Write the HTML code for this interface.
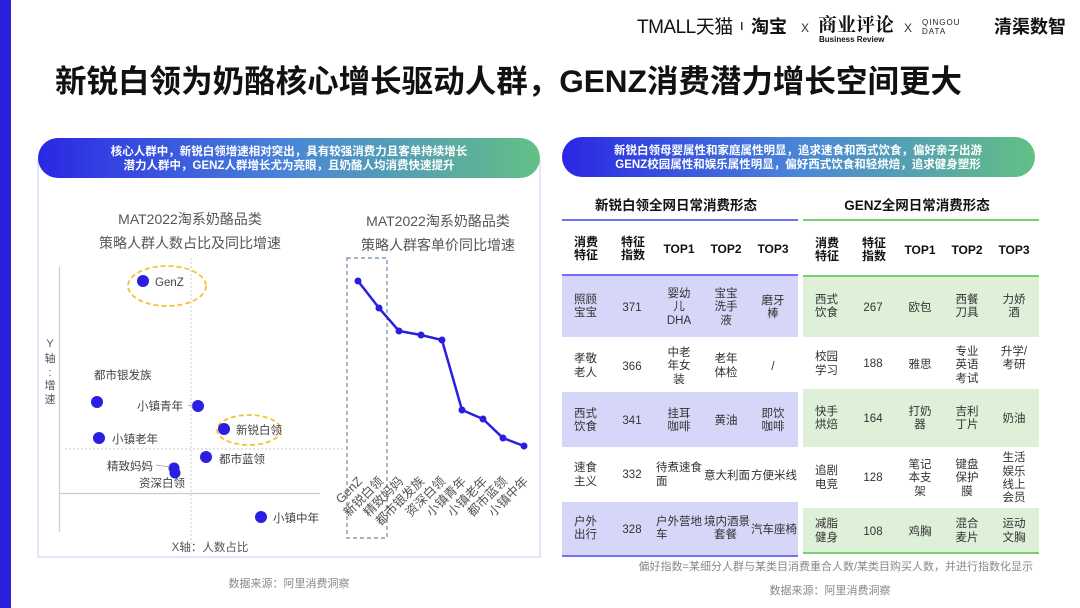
<!DOCTYPE html>
<html><head><meta charset="utf-8"><style>
html,body{margin:0;padding:0;background:#fff;}
svg{display:block;font-family:"Liberation Sans","Noto Sans CJK SC",sans-serif;}
</style></head><body>
<svg width="1080" height="608" viewBox="0 0 1080 608" xmlns="http://www.w3.org/2000/svg">
<defs>
<linearGradient id="g" x1="0" x2="1" y1="0" y2="0"><stop offset="0" stop-color="#2a27e4"/><stop offset="0.5" stop-color="#4a86d8"/><stop offset="1" stop-color="#62c084"/></linearGradient>
</defs>
<rect x="0" y="0" width="11" height="608" fill="#2b1fe0"/>
<!-- header logos -->
<text x="637" y="33" font-size="19" fill="#111" letter-spacing="-0.5">TMALL天猫</text>
<rect x="741" y="22" width="1.5" height="8" fill="#333"/>
<text x="751" y="33" font-size="18" font-weight="bold" fill="#111">淘宝</text>
<text x="801" y="32" font-size="12" fill="#333">X</text>
<text x="818" y="31" font-size="19" font-weight="bold" fill="#111" font-family="Noto Serif CJK SC,serif">商业评论</text>
<text x="819" y="42" font-size="8" font-weight="bold" fill="#111">Business Review</text>
<text x="904" y="32" font-size="12" fill="#333">X</text>
<text x="922" y="25" font-size="8" fill="#222" letter-spacing="1">QINGOU</text>
<text x="922" y="34" font-size="8" fill="#222" letter-spacing="1">DATA</text>
<text x="994" y="33" font-size="18" font-weight="bold" fill="#111">清渠数智</text>
<!-- title -->
<text x="55" y="92" font-size="31.5" font-weight="bold" fill="#111" textLength="907" lengthAdjust="spacingAndGlyphs">新锐白领为奶酪核心增长驱动人群，GENZ消费潜力增长空间更大</text>

<!-- left panel -->
<rect x="38" y="160" width="502" height="397" fill="none" stroke="#c9c9f5" stroke-width="1"/>
<rect x="38" y="138" width="502" height="40" rx="20" fill="url(#g)"/>
<text x="289" y="155" font-size="11.5" font-weight="bold" fill="#fff" text-anchor="middle">核心人群中，新锐白领增速相对突出，具有较强消费力且客单持续增长</text>
<text x="289" y="169" font-size="11.5" font-weight="bold" fill="#fff" text-anchor="middle">潜力人群中，GENZ人群增长尤为亮眼，且奶酪人均消费快速提升</text>

<text x="190" y="224" font-size="14" fill="#555" text-anchor="middle">MAT2022淘系奶酪品类</text>
<text x="190" y="248" font-size="14" fill="#555" text-anchor="middle">策略人群人数占比及同比增速</text>
<text x="438" y="226" font-size="14" fill="#555" text-anchor="middle">MAT2022淘系奶酪品类</text>
<text x="438" y="250" font-size="14" fill="#555" text-anchor="middle">策略人群客单价同比增速</text>

<!-- scatter axes -->
<line x1="59.5" y1="267" x2="59.5" y2="532" stroke="#ccc" stroke-width="1.2"/>
<line x1="59" y1="493.5" x2="320" y2="493.5" stroke="#ccc" stroke-width="1.2"/>
<line x1="191" y1="258" x2="191" y2="545" stroke="#ccc" stroke-dasharray="2,2"/>
<line x1="65" y1="449" x2="345" y2="449" stroke="#ccc" stroke-dasharray="2,2"/>
<text x="50" y="347" font-size="11" fill="#555" text-anchor="middle">Y</text>
<text x="50" y="362" font-size="11" fill="#555" text-anchor="middle">轴</text>
<text x="50" y="376" font-size="11" fill="#555" text-anchor="middle">:</text>
<text x="50" y="389" font-size="11" fill="#555" text-anchor="middle">增</text>
<text x="50" y="403" font-size="11" fill="#555" text-anchor="middle">速</text>
<text x="210" y="551" font-size="11.5" fill="#555" text-anchor="middle">X轴：人数占比</text>

<ellipse cx="167" cy="286" rx="39" ry="20" fill="none" stroke="#f4c330" stroke-width="1.8" stroke-dasharray="5,3"/>
<ellipse cx="249" cy="430" rx="32" ry="15" fill="none" stroke="#f4c330" stroke-width="1.8" stroke-dasharray="5,3"/>
<g fill="#2a1fe0">
<circle cx="143" cy="281" r="6"/><circle cx="97" cy="402" r="6"/><circle cx="198" cy="406" r="6"/>
<circle cx="224" cy="429" r="6"/><circle cx="99" cy="438" r="6"/><circle cx="206" cy="457" r="6"/>
<circle cx="174" cy="468" r="5.5"/><circle cx="175" cy="473" r="5.5"/><circle cx="261" cy="517" r="6"/>
</g>
<g font-size="11.5" fill="#444">
<text x="155" y="286">GenZ</text>
<text x="94" y="379">都市银发族</text>
<text x="137" y="410">小镇青年</text>
<text x="236" y="434">新锐白领</text>
<text x="112" y="443">小镇老年</text>
<text x="219" y="463">都市蓝领</text>
<text x="107" y="470">精致妈妈</text>
<text x="139" y="487">资深白领</text>
<text x="273" y="522">小镇中年</text>
</g>
<line x1="156" y1="465" x2="170" y2="467" stroke="#999" stroke-width="0.8"/>
<line x1="188" y1="405" x2="193" y2="406" stroke="#999" stroke-width="0.8"/>

<!-- line chart -->
<rect x="347" y="258" width="40" height="280" fill="none" stroke="#6a8aa8" stroke-width="1.2" stroke-dasharray="4,3"/>
<polyline points="358,281 379,308 399,331 421,335 442,340 462,410 483,419 503,438 524,446" fill="none" stroke="#2a1fe0" stroke-width="2.5"/>
<g fill="#2a1fe0">
<circle cx="358" cy="281" r="3.5"/><circle cx="379" cy="308" r="3.5"/><circle cx="399" cy="331" r="3.5"/><circle cx="421" cy="335" r="3.5"/><circle cx="442" cy="340" r="3.5"/><circle cx="462" cy="410" r="3.5"/><circle cx="483" cy="419" r="3.5"/><circle cx="503" cy="438" r="3.5"/><circle cx="524" cy="446" r="3.5"/>
</g>
<g font-size="12.5" fill="#555" text-anchor="end">
<text transform="translate(363,482) rotate(-45)">GenZ</text>
<text transform="translate(384,482) rotate(-45)">新锐白领</text>
<text transform="translate(404,482) rotate(-45)">精致妈妈</text>
<text transform="translate(425,482) rotate(-45)">都市银发族</text>
<text transform="translate(446,482) rotate(-45)">资深白领</text>
<text transform="translate(467,482) rotate(-45)">小镇青年</text>
<text transform="translate(488,482) rotate(-45)">小镇老年</text>
<text transform="translate(508,482) rotate(-45)">都市蓝领</text>
<text transform="translate(529,482) rotate(-45)">小镇中年</text>
</g>
<text x="289" y="587" font-size="11" fill="#888" text-anchor="middle">数据来源：阿里消费洞察</text>

<!-- right panel -->
<rect x="562" y="137" width="473" height="40" rx="20" fill="url(#g)"/>
<text x="798" y="154" font-size="11.5" font-weight="bold" fill="#fff" text-anchor="middle">新锐白领母婴属性和家庭属性明显，追求速食和西式饮食，偏好亲子出游</text>
<text x="798" y="168" font-size="11.5" font-weight="bold" fill="#fff" text-anchor="middle">GENZ校园属性和娱乐属性明显，偏好西式饮食和轻烘焙，追求健身塑形</text>

<text x="676" y="210" font-size="13.5" font-weight="bold" fill="#111" text-anchor="middle">新锐白领全网日常消费形态</text>
<text x="917" y="210" font-size="13.5" font-weight="bold" fill="#111" text-anchor="middle">GENZ全网日常消费形态</text>
<rect x="562" y="219" width="236" height="2" fill="#7070f0"/>
<rect x="803" y="219" width="236" height="2" fill="#7ccf70"/>

<g fill="#d6d6f8"><rect x="562" y="275" width="236" height="62"/><rect x="562" y="392" width="236" height="55"/><rect x="562" y="502" width="236" height="54"/></g>
<rect x="562" y="274" width="236" height="2" fill="#7070f0"/>
<rect x="562" y="555" width="236" height="2" fill="#7070f0"/>
<g fill="#dff0d8"><rect x="803" y="276" width="236" height="61"/><rect x="803" y="389" width="236" height="58"/><rect x="803" y="508" width="236" height="45"/></g>
<rect x="803" y="275" width="236" height="2" fill="#7ccf70"/>
<rect x="803" y="552" width="236" height="2" fill="#7ccf70"/>

<g font-size="12" font-weight="bold" fill="#111">
<text x="574" y="246">消费</text><text x="574" y="259">特征</text>
<text x="621" y="246">特征</text><text x="621" y="259">指数</text>
<text x="679" y="253" text-anchor="middle">TOP1</text><text x="726" y="253" text-anchor="middle">TOP2</text><text x="773" y="253" text-anchor="middle">TOP3</text>
<text x="815" y="247">消费</text><text x="815" y="260">特征</text>
<text x="862" y="247">特征</text><text x="862" y="260">指数</text>
<text x="920" y="254" text-anchor="middle">TOP1</text><text x="967" y="254" text-anchor="middle">TOP2</text><text x="1014" y="254" text-anchor="middle">TOP3</text>
</g>

<g font-size="11.5" fill="#333">
<text x="574" y="303">照顾</text><text x="574" y="316">宝宝</text>
<text x="632" y="311" text-anchor="middle">371</text>
<text x="679" y="297" text-anchor="middle">婴幼</text><text x="679" y="310" text-anchor="middle">儿</text><text x="679" y="324" text-anchor="middle">DHA</text>
<text x="726" y="297" text-anchor="middle">宝宝</text><text x="726" y="310" text-anchor="middle">洗手</text><text x="726" y="324" text-anchor="middle">液</text>
<text x="773" y="304" text-anchor="middle">磨牙</text><text x="773" y="317" text-anchor="middle">棒</text>

<text x="574" y="362">孝敬</text><text x="574" y="376">老人</text>
<text x="632" y="370" text-anchor="middle">366</text>
<text x="679" y="356" text-anchor="middle">中老</text><text x="679" y="369" text-anchor="middle">年女</text><text x="679" y="383" text-anchor="middle">装</text>
<text x="726" y="362" text-anchor="middle">老年</text><text x="726" y="376" text-anchor="middle">体检</text>
<text x="773" y="370" text-anchor="middle">/</text>

<text x="574" y="417">西式</text><text x="574" y="430">饮食</text>
<text x="632" y="424" text-anchor="middle">341</text>
<text x="679" y="417" text-anchor="middle">挂耳</text><text x="679" y="430" text-anchor="middle">咖啡</text>
<text x="726" y="424" text-anchor="middle">黄油</text>
<text x="773" y="417" text-anchor="middle">即饮</text><text x="773" y="430" text-anchor="middle">咖啡</text>

<text x="574" y="471">速食</text><text x="574" y="485">主义</text>
<text x="632" y="478" text-anchor="middle">332</text>
<text x="656" y="471">待煮速食</text><text x="656" y="485">面</text>
<text x="704" y="479">意大利面</text>
<text x="751" y="479">方便米线</text>

<text x="574" y="525">户外</text><text x="574" y="538">出行</text>
<text x="632" y="533" text-anchor="middle">328</text>
<text x="656" y="525">户外营地</text><text x="656" y="538">车</text>
<text x="727" y="525" text-anchor="middle">境内酒景</text><text x="714" y="538">套餐</text>
<text x="751" y="533">汽车座椅</text>

<text x="815" y="303">西式</text><text x="815" y="316">饮食</text>
<text x="873" y="311" text-anchor="middle">267</text>
<text x="920" y="311" text-anchor="middle">欧包</text>
<text x="967" y="303" text-anchor="middle">西餐</text><text x="967" y="316" text-anchor="middle">刀具</text>
<text x="1014" y="303" text-anchor="middle">力娇</text><text x="1014" y="316" text-anchor="middle">酒</text>

<text x="815" y="360">校园</text><text x="815" y="374">学习</text>
<text x="873" y="367" text-anchor="middle">188</text>
<text x="920" y="368" text-anchor="middle">雅思</text>
<text x="967" y="355" text-anchor="middle">专业</text><text x="967" y="368" text-anchor="middle">英语</text><text x="967" y="382" text-anchor="middle">考试</text>
<text x="1014" y="355" text-anchor="middle">升学/</text><text x="1014" y="368" text-anchor="middle">考研</text>

<text x="815" y="415">快手</text><text x="815" y="428">烘焙</text>
<text x="873" y="422" text-anchor="middle">164</text>
<text x="920" y="415" text-anchor="middle">打奶</text><text x="920" y="428" text-anchor="middle">器</text>
<text x="967" y="415" text-anchor="middle">吉利</text><text x="967" y="428" text-anchor="middle">丁片</text>
<text x="1014" y="422" text-anchor="middle">奶油</text>

<text x="815" y="474">追剧</text><text x="815" y="488">电竞</text>
<text x="873" y="481" text-anchor="middle">128</text>
<text x="920" y="468" text-anchor="middle">笔记</text><text x="920" y="481" text-anchor="middle">本支</text><text x="920" y="495" text-anchor="middle">架</text>
<text x="967" y="468" text-anchor="middle">键盘</text><text x="967" y="481" text-anchor="middle">保护</text><text x="967" y="495" text-anchor="middle">膜</text>
<text x="1014" y="461" text-anchor="middle">生活</text><text x="1014" y="475" text-anchor="middle">娱乐</text><text x="1014" y="488" text-anchor="middle">线上</text><text x="1014" y="501" text-anchor="middle">会员</text>

<text x="815" y="527">减脂</text><text x="815" y="541">健身</text>
<text x="873" y="535" text-anchor="middle">108</text>
<text x="920" y="535" text-anchor="middle">鸡胸</text>
<text x="967" y="527" text-anchor="middle">混合</text><text x="967" y="541" text-anchor="middle">麦片</text>
<text x="1014" y="527" text-anchor="middle">运动</text><text x="1014" y="541" text-anchor="middle">文胸</text>
</g>

<text x="1033" y="570" font-size="11" fill="#888" text-anchor="end">偏好指数=某细分人群与某类目消费重合人数/某类目购买人数，并进行指数化显示</text>
<text x="830" y="594" font-size="11" fill="#888" text-anchor="middle">数据来源：阿里消费洞察</text>
</svg>
</body></html>
